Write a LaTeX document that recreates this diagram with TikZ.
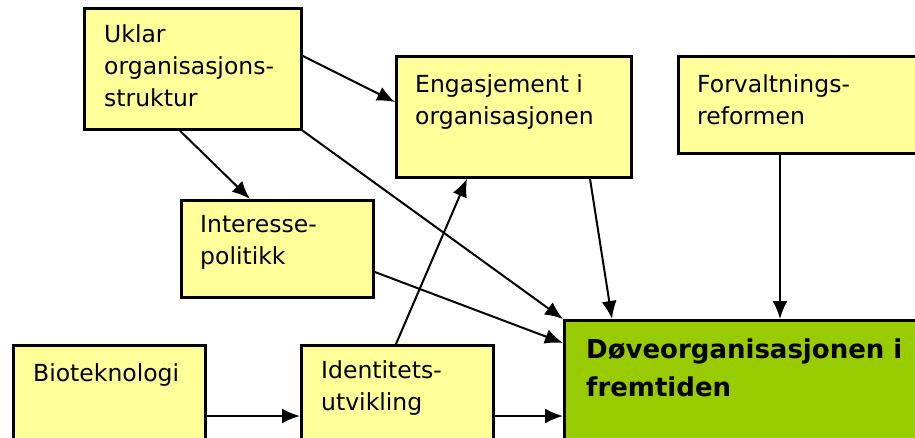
\documentclass[tikz,border=0pt]{standalone}
\usepackage{fontspec}
\setmainfont{DejaVu Sans}
\usetikzlibrary{arrows.meta}
\definecolor{boxyellow}{RGB}{255,255,153}
\definecolor{boxgreen}{RGB}{153,204,0}

\begin{document}
\begin{tikzpicture}[x=1pt,y=-1pt,
    box/.style={draw=black, line width=2.8pt, fill=boxyellow, anchor=north west, inner sep=0pt},
    txt/.style={anchor=north west, inner sep=0pt, align=left, font=\fontsize{23.5}{32}\selectfont},
    pil/.style={-{Latex[length=18pt,width=15pt]}, line width=2pt}]
    \clip (0,0) rectangle (915,437);
    \fill[white] (0,0) rectangle (915,437);

    % boxes
    \node[box, minimum width=217pt, minimum height=121pt] (uklar) at (83,7) {};
    \node[box, minimum width=235pt, minimum height=121pt] (eng) at (395,55) {};
    \node[box, minimum width=250pt, minimum height=97pt] (forv) at (677,55) {};
    \node[box, minimum width=192pt, minimum height=97pt] (inter) at (180,199) {};
    \node[box, minimum width=192pt, minimum height=120pt] (bio) at (12,344) {};
    \node[box, minimum width=192pt, minimum height=120pt] (ident) at (300,344) {};
    \node[box, fill=boxgreen, minimum width=400pt, minimum height=150pt] (doev) at (563,319) {};

    % texts
    \node[txt] (uklartxt) at (104,24.5) {Uklar\\organisasjons-\\struktur};
    \node[txt] (engtxt) at (415,74.5) {Engasjement i\\organisasjonen};
    \node[txt] (forvtxt) at (697,74.5) {Forvaltnings-\\reformen};
    \node[txt] (intertxt) at (200,215.5) {Interesse-\\politikk};
    \node[txt] (biotxt) at (33,363.5) {Bioteknologi};
    \node[txt] (identtxt) at (321,360.5) {Identitets-\\utvikling};
    \node[txt, font=\fontsize{26}{38}\selectfont\bfseries] (doevtxt) at (586,339)
      {Døveorganisasjonen i\\fremtiden};

    % arrows
    \draw[pil] ([yshift=-49pt]uklar.north east) -- ([yshift=-47pt]eng.north west);
    \draw[pil] ([xshift=97pt]uklar.south west) -- ([xshift=70pt]inter.north west);
    \draw[pil] (uklar.south east) -- (doev.north west);
    \draw[pil] ([xshift=96pt]ident.north west) -- ([xshift=72pt]eng.south west);
    \draw[pil] ([xshift=195pt]eng.south west) -- ([xshift=49pt]doev.north west);
    \draw[pil] ([xshift=103pt]forv.south west) -- ([xshift=217pt]doev.north west);
    \draw[pil] ([yshift=-73pt]inter.north east) -- ([yshift=-24pt]doev.north west);
    \draw[pil] ([yshift=-72pt]bio.north east) -- ([yshift=-72pt]ident.north west);
    \draw[pil] ([yshift=-72pt]ident.north east) -- ([yshift=-97pt]doev.north west);
\end{tikzpicture}
\end{document}
